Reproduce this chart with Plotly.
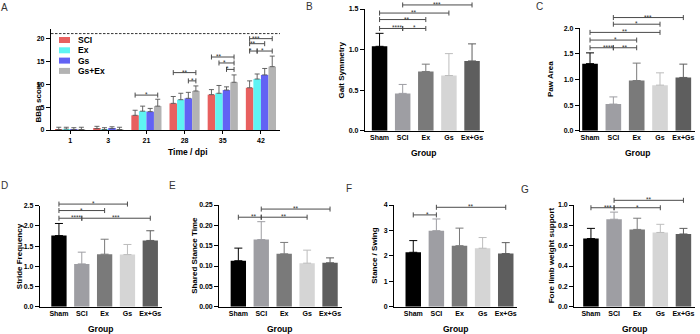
import plotly.graph_objects as go

FONT = "Liberation Sans, Arial, Helvetica, sans-serif"
W, H = 700, 334

# ---------------- Panel A data ----------------
days = ["1", "3", "21", "28", "35", "42"]
series_names = ["SCI", "Ex", "Gs", "Gs+Ex"]
series_colors = ["#E8605F", "#5FF3F3", "#6262F4", "#B3B3B3"]
sci_mean = [0.1, 0.3, 3.2, 5.8, 7.7, 9.2]
sci_sd = [0.5, 0.5, 1.1, 1.5, 1.1, 1.5]
ex_mean = [0.2, 0.1, 4.1, 6.6, 8.0, 11.1]
ex_sd = [0.4, 0.4, 1.1, 1.4, 1.7, 1.1]
gs_mean = [0.1, 0.3, 4.0, 6.9, 8.7, 12.0]
gs_sd = [0.4, 0.4, 0.7, 1.3, 0.7, 1.4]
gsex_mean = [0.1, 0.1, 5.2, 8.5, 10.4, 13.8]
gsex_sd = [0.5, 0.5, 1.5, 1.1, 1.6, 2.3]
bbb_max_line = 21
# brackets: day index, series from, series to, height, label
a_br_day = [2, 3, 3, 4, 4, 4, 5, 5, 5, 5]
a_br_from = [0, 0, 2, 0, 1, 2, 0, 0, 0, 1]
a_br_to = [3, 3, 3, 3, 3, 3, 3, 2, 1, 3]
a_br_h = [7.6, 12.5, 10.7, 15.9, 14.6, 13.2, 19.9, 18.8, 17.2, 17.2]
a_br_txt = ["*", "**", "*", "**", "*", "*", "***", "**", "*", "*"]

# ---------------- Panels B-G data ----------------
groups = ["Sham", "SCI", "Ex", "Gs", "Ex+Gs"]
group_colors = ["#000000", "#9E9EA3", "#7A7A7A", "#D5D5D5", "#5E5E5E"]
err_colors = ["#000000", "#9E9EA3", "#7A7A7A", "#BDBDBD", "#5E5E5E"]

gait_mean = [1.04, 0.46, 0.73, 0.68, 0.86]
gait_sd = [0.16, 0.11, 0.09, 0.27, 0.21]
gait_br = [(1, 4, 1.55, "***"), (0, 3, 1.45, "**"), (0, 2, 1.37, "**"),
           (0, 1, 1.26, "****"), (1, 2, 1.26, "*")]

paw_mean = [1.31, 0.52, 0.98, 0.89, 1.04]
paw_sd = [0.21, 0.14, 0.34, 0.24, 0.26]
paw_br = [(1, 4, 2.21, "***"), (1, 3, 2.08, "*"), (0, 3, 1.92, "**"),
          (0, 2, 1.77, "*"), (0, 1, 1.62, "****"), (1, 2, 1.62, "**")]

stride_mean = [1.76, 1.06, 1.30, 1.29, 1.64]
stride_sd = [0.30, 0.29, 0.37, 0.25, 0.24]
stride_br = [(0, 3, 2.54, "*"), (0, 2, 2.38, "*"), (0, 1, 2.19, "****"),
             (1, 4, 2.19, "***")]

shared_mean = [0.113, 0.165, 0.130, 0.107, 0.108]
shared_sd = [0.031, 0.044, 0.028, 0.032, 0.012]
shared_br = [(1, 4, 0.240, "**"), (0, 1, 0.220, "**"), (1, 3, 0.220, "**")]

stance_mean = [2.14, 2.99, 2.40, 2.30, 2.09]
stance_sd = [0.46, 0.46, 0.69, 0.42, 0.43]
stance_br = [(1, 4, 3.91, "**"), (0, 1, 3.61, "*")]

fore_mean = [0.67, 0.86, 0.76, 0.73, 0.715]
fore_sd = [0.10, 0.07, 0.11, 0.08, 0.055]
fore_br = [(1, 4, 1.046, "**"), (0, 1, 0.973, "***"), (1, 3, 0.973, "*")]

# ---------------- layout helpers ----------------
def fx(p):
    return p / W


def fy(p):
    return 1 - p / H


fig = go.Figure()
BR = "#4A4A4A"
A_ERR = "#555555"
shapes = []
annotations = []


def axname(n, letter):
    return letter if n == 1 else f"{letter}{n}"


def add_bracket(n, xa, xb, h, ymax, xr, label):
    xref = axname(n, "x") + " domain"
    yref = axname(n, "y") + " domain"
    yd = h / ymax
    x0 = (xa - xr[0]) / (xr[1] - xr[0])
    x1 = (xb - xr[0]) / (xr[1] - xr[0])
    shapes.append(dict(type="line", xref=xref, yref=yref, x0=x0, x1=x1,
                       y0=yd, y1=yd, line=dict(color=BR, width=1)))
    for xx in (x0, x1):
        shapes.append(dict(type="line", xref=xref, yref=yref, x0=xx, x1=xx,
                           ysizemode="pixel", yanchor=yd, y0=-2.5, y1=2.5,
                           line=dict(color=BR, width=1)))
    annotations.append(dict(xref=xref, yref=yref, x=(x0 + x1) / 2, y=yd,
                            text=label, showarrow=False, yanchor="bottom",
                            yshift=-4, borderpad=0,
                            font=dict(size=6.5, color="#333", family=FONT)))


def style_axes(n, xpx, xr, ypx, ymax, tickvals, fmt, xticks):
    xa = dict(domain=[fx(xpx[0]), fx(xpx[1])], range=list(xr),
              anchor=axname(n, "y"), type="category",
              showline=True, linecolor="black", linewidth=1.3,
              ticks=xticks, ticklen=3, tickwidth=1, tickcolor="black",
              showgrid=False, zeroline=False,
              tickfont=dict(size=7, family=FONT, color="black", weight=700))
    ya = dict(domain=[fy(ypx[0]), fy(ypx[1])], range=[0, ymax],
              anchor=axname(n, "x"),
              showline=True, linecolor="black", linewidth=1.3,
              ticks="outside", ticklen=4, tickwidth=1, tickcolor="black",
              showgrid=False, zeroline=False, tickvals=tickvals,
              tickformat=fmt,
              tickfont=dict(size=7, family=FONT, color="black", weight=700))
    return xa, ya


layout_axes = {}

# ---------------- Panel A ----------------
A_xr = (-0.5, 5.5)
A_ymax = 22
xa, ya = style_axes(1, (51, 280), A_xr, (130, 29), A_ymax,
                    [0, 5, 10, 15, 20], "d", "outside")
layout_axes["xaxis"] = xa
layout_axes["yaxis"] = ya
a_means = [sci_mean, ex_mean, gs_mean, gsex_mean]
a_sds = [sci_sd, ex_sd, gs_sd, gsex_sd]
BARGAP = 0.21
for k, name in enumerate(series_names):
    fig.add_trace(go.Bar(
        x=days, y=a_means[k], name=name, marker_color=series_colors[k],
        marker_line_width=0, showlegend=False, xaxis="x", yaxis="y",
        error_y=dict(type="data", array=a_sds[k], arrayminus=[0] * len(days),
                     symmetric=False, color=A_ERR, thickness=0.9,
                     width=2.5)))
bw = (1 - BARGAP) / len(series_names)
for d, s0, s1, h, t in zip(a_br_day, a_br_from, a_br_to, a_br_h, a_br_txt):
    xa_ = d + (s0 - 1.5) * bw
    xb_ = d + (s1 - 1.5) * bw
    add_bracket(1, xa_, xb_, h, A_ymax, A_xr, t)
shapes.append(dict(type="line", xref="x domain", yref="y", x0=0, x1=1,
                   y0=bbb_max_line, y1=bbb_max_line,
                   line=dict(color="#333", width=1, dash="2.5px,1.5px")))
# manual compact legend
for k, name in enumerate(series_names):
    cy = 40 + k * 10.3
    shapes.append(dict(type="rect", xref="paper", yref="paper",
                       x0=fx(59), x1=fx(70), y0=fy(cy + 3), y1=fy(cy - 3),
                       fillcolor=series_colors[k], line=dict(width=0)))
    annotations.append(dict(xref="paper", yref="paper", x=fx(76), y=fy(cy),
                            text=name, showarrow=False, xanchor="left",
                            yanchor="middle",
                            font=dict(size=8.5, family=FONT, color="black",
                                      weight=700)))

# ---------------- Panels B-G ----------------
panels = [
    # n, letter, means, sds, brackets, xpx, xr, ypx, ymax, ticks, fmt, ytitle, ytitle_x
    (2, "B", gait_mean, gait_sd, gait_br, (365, 483.6), (-0.63, 4.5),
     (130.7, 9), 1.5, [0, 0.5, 1.0, 1.5], ".1f", "Gait Symmetry", 341.7),
    (3, "C", paw_mean, paw_sd, paw_br, (580, 695), (-0.43, 4.5),
     (130.7, 28.3), 2.0, [0, 0.5, 1.0, 1.5, 2.0], ".1f", "Paw Area", 550.5),
    (4, "D", stride_mean, stride_sd, stride_br, (40, 161.7), (-0.83, 4.5),
     (306.7, 205.7), 2.5, [0, 0.5, 1.0, 1.5, 2.0, 2.5], ".1f",
     "Stride Frequency", 19),
    (5, "E", shared_mean, shared_sd, shared_br, (219.3, 341.5), (-0.83, 4.5),
     (306.7, 205), 0.25, [0, 0.05, 0.10, 0.15, 0.20, 0.25], ".2f",
     "Shared Stance Time", 195),
    (6, "F", stance_mean, stance_sd, stance_br, (394.3, 517.3), (-0.82, 4.5),
     (306.7, 205), 4, [0, 1, 2, 3, 4], "d", "Stance / Swing", 375),
    (7, "G", fore_mean, fore_sd, fore_br, (574.3, 695), (-0.72, 4.5),
     (306.7, 205), 1.0, [0, 0.2, 0.4, 0.6, 0.8, 1.0], ".1f",
     "Fore limb weight support", 551.5),
]
BAR_W = 0.67
for (n, letter, means, sds, brs, xpx, xr, ypx, ymax, tv, fmt, ytitle,
     ytx) in panels:
    xa, ya = style_axes(n, xpx, xr, ypx, ymax, tv, fmt, "")
    layout_axes[f"xaxis{n}"] = xa
    layout_axes[f"yaxis{n}"] = ya
    for i, g in enumerate(groups):
        fig.add_trace(go.Bar(
            x=[g], y=[means[i]], marker_color=group_colors[i],
            marker_line_width=0, width=BAR_W, offset=-BAR_W / 2,
            showlegend=False, xaxis=axname(n, "x"), yaxis=axname(n, "y"),
            error_y=dict(type="data", array=[sds[i]], arrayminus=[0],
                         symmetric=False, color=err_colors[i], thickness=1,
                         width=4)))
    layout_axes[f"xaxis{n}"]["categoryorder"] = "array"
    layout_axes[f"xaxis{n}"]["categoryarray"] = groups
    for (a, b, h, t) in brs:
        add_bracket(n, a, b, h, ymax, xr, t)
    annotations.append(dict(xref="paper", yref="paper",
                            x=fx((xpx[0] + xpx[1]) / 2), y=fy(ypx[0] + 22),
                            text="Group", showarrow=False, xanchor="center",
                            yanchor="middle",
                            font=dict(size=8.5, family=FONT, color="black",
                                      weight=700)))
    annotations.append(dict(xref="paper", yref="paper", x=fx(ytx),
                            y=fy((ypx[0] + ypx[1]) / 2), text=ytitle,
                            textangle=-90, showarrow=False, xanchor="center",
                            yanchor="middle",
                            font=dict(size=8, family=FONT, color="black",
                                      weight=700)))

# Panel A titles
annotations.append(dict(xref="paper", yref="paper", x=fx(165.5), y=fy(152),
                        text="Time / dpi", showarrow=False,
                        font=dict(size=8.5, family=FONT, color="black",
                                  weight=700)))
annotations.append(dict(xref="paper", yref="paper", x=fx(31), y=fy(79.5),
                        text="BBB score", textangle=-90, showarrow=False,
                        font=dict(size=8, family=FONT, color="black",
                                  weight=700)))

# panel letters
letters = ["A", "B", "C", "D", "E", "F", "G"]
letter_pos = [(4.5, 8), (309.5, 6), (539.5, 6), (4.5, 185), (172.5, 185),
              (349, 188.5), (524.5, 189)]
for L, (px_, py_) in zip(letters, letter_pos):
    annotations.append(dict(xref="paper", yref="paper", x=fx(px_), y=fy(py_),
                            text=L, showarrow=False, xanchor="center",
                            yanchor="middle",
                            font=dict(size=10, family=FONT, color="#333")))

fig.update_layout(
    template="none",
    width=W, height=H, autosize=False,
    margin=dict(l=0, r=0, t=0, b=0),
    paper_bgcolor="white", plot_bgcolor="white",
    barmode="group", bargap=BARGAP, bargroupgap=0,
    showlegend=False,
    font=dict(family=FONT, size=8, color="black"),
    shapes=shapes, annotations=annotations,
    **layout_axes,
)

fig.write_html(
    "out.html",
    config={"displayModeBar": False},
    post_script="document.body.style.margin='0';"
                "document.body.style.padding='0';"
                "document.body.style.overflow='hidden';",
)
